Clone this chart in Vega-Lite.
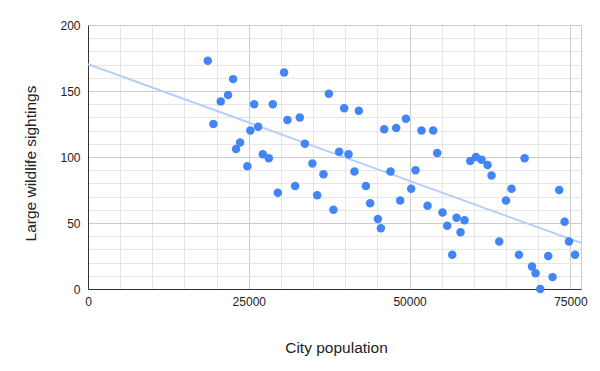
{
  "$schema": "https://vega.github.io/schema/vega-lite/v6.json",
  "width": 493,
  "height": 264,
  "autosize": {"type": "none"},
  "padding": {"left": 88, "top": 25, "right": 19, "bottom": 82},
  "background": "white",
  "config": {
    "view": {"stroke": "#cccccc"},
    "font": "Liberation Sans"
  },
  "data": {
    "values": [
      {"population": 18620, "sightings": 173},
      {"population": 19490, "sightings": 125},
      {"population": 20640, "sightings": 142},
      {"population": 21780, "sightings": 147},
      {"population": 22560, "sightings": 159},
      {"population": 23020, "sightings": 106},
      {"population": 23650, "sightings": 111},
      {"population": 24780, "sightings": 93},
      {"population": 25250, "sightings": 120},
      {"population": 25830, "sightings": 140},
      {"population": 26450, "sightings": 123},
      {"population": 27180, "sightings": 102},
      {"population": 28110, "sightings": 99},
      {"population": 28730, "sightings": 140},
      {"population": 29510, "sightings": 73},
      {"population": 30490, "sightings": 164},
      {"population": 31000, "sightings": 128},
      {"population": 32200, "sightings": 78},
      {"population": 32930, "sightings": 130},
      {"population": 33710, "sightings": 110},
      {"population": 34890, "sightings": 95},
      {"population": 35630, "sightings": 71},
      {"population": 36610, "sightings": 87},
      {"population": 37450, "sightings": 148},
      {"population": 38160, "sightings": 60},
      {"population": 39050, "sightings": 104},
      {"population": 39830, "sightings": 137},
      {"population": 40500, "sightings": 102},
      {"population": 41430, "sightings": 89},
      {"population": 42110, "sightings": 135},
      {"population": 43200, "sightings": 78},
      {"population": 43870, "sightings": 65},
      {"population": 45070, "sightings": 53},
      {"population": 45540, "sightings": 46},
      {"population": 46050, "sightings": 121},
      {"population": 47030, "sightings": 89},
      {"population": 47920, "sightings": 122},
      {"population": 48540, "sightings": 67},
      {"population": 49430, "sightings": 129},
      {"population": 50250, "sightings": 76},
      {"population": 50920, "sightings": 90},
      {"population": 51850, "sightings": 120},
      {"population": 52790, "sightings": 63},
      {"population": 53670, "sightings": 120},
      {"population": 54290, "sightings": 103},
      {"population": 55120, "sightings": 58},
      {"population": 55850, "sightings": 48},
      {"population": 56630, "sightings": 26},
      {"population": 57300, "sightings": 54},
      {"population": 57920, "sightings": 43},
      {"population": 58540, "sightings": 52},
      {"population": 59430, "sightings": 97},
      {"population": 60320, "sightings": 100},
      {"population": 61190, "sightings": 98},
      {"population": 62120, "sightings": 94},
      {"population": 62740, "sightings": 86},
      {"population": 63940, "sightings": 36},
      {"population": 64980, "sightings": 67},
      {"population": 65850, "sightings": 76},
      {"population": 67000, "sightings": 26},
      {"population": 67880, "sightings": 99},
      {"population": 69030, "sightings": 17},
      {"population": 69590, "sightings": 12},
      {"population": 70320, "sightings": 0},
      {"population": 71560, "sightings": 25},
      {"population": 72230, "sightings": 9},
      {"population": 73270, "sightings": 75},
      {"population": 74100, "sightings": 51},
      {"population": 74780, "sightings": 36},
      {"population": 75720, "sightings": 26}
    ]
  },
  "layer": [
    {
      "mark": {"type": "point", "opacity": 0},
      "encoding": {
        "x": {
          "field": "population", "type": "quantitative",
          "scale": {"domain": [0, 76650], "nice": false, "zero": true},
          "axis": {
            "orient": "bottom", "title": null, "labels": false, "ticks": false, "domain": false,
            "grid": true, "gridColor": "#e6e6e6", "gridWidth": 1,
            "values": [5000, 10000, 15000, 20000, 30000, 35000, 40000, 45000, 55000, 60000, 65000, 70000]
          }
        },
        "y": {
          "field": "sightings", "type": "quantitative",
          "scale": {"domain": [0, 200], "nice": false},
          "axis": {
            "orient": "left", "title": null, "labels": false, "ticks": false, "domain": false,
            "grid": true, "gridColor": "#e6e6e6", "gridWidth": 1,
            "values": [10, 20, 30, 40, 60, 70, 80, 90, 110, 120, 130, 140, 160, 170, 180, 190]
          }
        }
      }
    },
    {
      "transform": [
        {"regression": "sightings", "on": "population", "extent": [0, 76650]}
      ],
      "mark": {"type": "line", "color": "#b3cefb", "strokeWidth": 2, "clip": true},
      "encoding": {
        "x": {"field": "population", "type": "quantitative", "axis": null},
        "y": {"field": "sightings", "type": "quantitative", "axis": null}
      }
    },
    {
      "mark": {"type": "circle", "color": "#4285f4", "opacity": 1, "size": 72},
      "encoding": {
        "x": {
          "field": "population", "type": "quantitative",
          "axis": {
            "orient": "bottom", "title": "City population",
            "values": [0, 25000, 50000, 75000], "format": "d",
            "grid": true, "gridColor": "#cccccc", "ticks": false,
            "domain": true, "domainColor": "#333333",
            "labelFont": "Liberation Sans", "labelFontSize": 12, "labelColor": "#222222",
            "labelPadding": 7, "labelFlush": false, "labelOverlap": false,
            "titleFont": "Liberation Sans", "titleFontSize": 15.5, "titleFontWeight": "normal", "titleColor": "#222222",
            "titleX": 248, "titleY": 63, "titleBaseline": "alphabetic", "titleAnchor": "middle"
          }
        },
        "y": {
          "field": "sightings", "type": "quantitative",
          "axis": {
            "orient": "left", "title": "Large wildlife sightings",
            "values": [0, 50, 100, 150, 200],
            "grid": true, "gridColor": "#cccccc", "ticks": false,
            "domain": true, "domainColor": "#333333",
            "labelFont": "Liberation Sans", "labelFontSize": 12, "labelColor": "#222222",
            "labelPadding": 8, "labelFlush": false, "labelOverlap": false,
            "titleFont": "Liberation Sans", "titleFontSize": 15.5, "titleFontWeight": "normal", "titleColor": "#222222",
            "titleX": -58, "titleY": 138, "titleBaseline": "middle", "titleAngle": -90, "titleAnchor": "middle"
          }
        }
      }
    }
  ],
  "resolve": {"axis": {"x": "independent", "y": "independent"}}
}
